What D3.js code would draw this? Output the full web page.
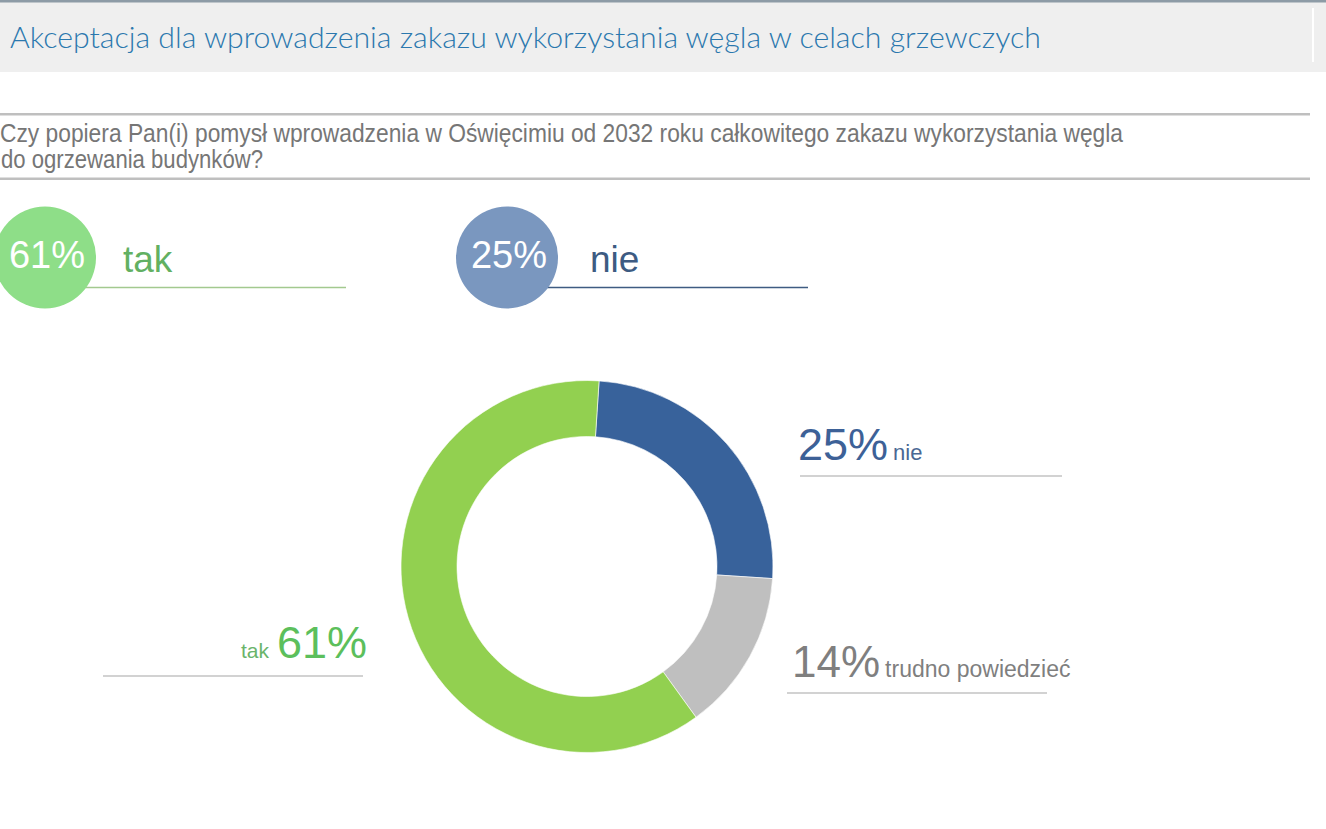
<!DOCTYPE html>
<html>
<head>
<meta charset="utf-8">
<script src="https://cdn.jsdelivr.net/npm/d3@7"></script>
<style>
  html, body { margin: 0; padding: 0; background: #ffffff; }
  svg { display: block; }
</style>
</head>
<body>
<svg id="chart" width="1326" height="829"></svg>
<script>
// ---- data ----
const title = "Akceptacja dla wprowadzenia zakazu wykorzystania węgla w celach grzewczych";
const questionLines = [
  "Czy popiera Pan(i) pomysł wprowadzenia w Oświęcimiu od 2032 roku całkowitego zakazu wykorzystania węgla",
  "do ogrzewania budynków?"
];
const categories = ["nie", "trudno powiedzieć", "tak"];
const values = [25, 14, 61];
const sliceColors = ["#38629b", "#bfbfbf", "#92d050"];
const highlightCategories = ["tak", "nie"];
const highlightValues = [61, 25];

// ---- drawing ----
const svg = d3.select("#chart");
const W = 1326, H = 829;
svg.append("rect").attr("width", W).attr("height", H).attr("fill", "#ffffff");

// header band
svg.append("rect").attr("x", 0).attr("y", 0).attr("width", W).attr("height", 72).attr("fill", "#efefef");
svg.append("rect").attr("x", 0).attr("y", 0).attr("width", W).attr("height", 2.5).attr("fill", "#8d9ba6");
svg.append("rect").attr("x", 1312).attr("y", 8).attr("width", 2).attr("height", 54).attr("fill", "#ffffff");
svg.append("text")
  .attr("x", 10).attr("y", 48)
  .attr("font-family", "Lato, 'Open Sans', sans-serif")
  .attr("font-weight", 300)
  .attr("font-size", 29)
  .attr("fill", "#2b78ae")
  .attr("textLength", 1031)
  .attr("lengthAdjust", "spacingAndGlyphs")
  .text(title);

// question block
svg.append("rect").attr("x", 0).attr("y", 113).attr("width", 1310).attr("height", 2.5).attr("fill", "#bfbfbf");
svg.append("rect").attr("x", 0).attr("y", 177.5).attr("width", 1310).attr("height", 2.5).attr("fill", "#bfbfbf");
const qLens = [1123, 262];
const qBase = [142, 168];
questionLines.forEach((t, i) => {
  svg.append("text")
    .attr("x", i === 0 ? 0 : 1).attr("y", qBase[i])
    .attr("font-family", "'Liberation Sans Narrow', 'Arial Narrow', 'Liberation Sans', Arial, sans-serif")
    .attr("font-size", 25)
    .attr("fill", "#767676")
    .attr("textLength", qLens[i])
    .attr("lengthAdjust", "spacingAndGlyphs")
    .text(t);
});

// highlight circles at top
const topColors = { "tak": "#8ede88", "nie": "#7a97bf" };
const topTextColors = { "tak": "#62b062", "nie": "#3d5b82" };
const topLineColors = { "tak": "#a3c98f", "nie": "#3f5c82" };
const topLabelOffset = { "tak": 78, "nie": 83 };
const topX = d3.scaleOrdinal().domain(highlightCategories).range([45, 507]);
const fmtPct = v => v + "%";
highlightCategories.forEach((c, i) => {
  const cx = topX(c);
  svg.append("line")
    .attr("x1", cx + 40).attr("x2", cx + 301)
    .attr("y1", 287.5).attr("y2", 287.5)
    .attr("stroke", topLineColors[c]).attr("stroke-width", 1.3);
  svg.append("circle").attr("cx", cx).attr("cy", 257.5).attr("r", 51).attr("fill", topColors[c]);
  svg.append("text")
    .attr("x", cx + 2).attr("y", 268)
    .attr("text-anchor", "middle")
    .attr("font-family", "'Liberation Sans', Arial, sans-serif")
    .attr("font-size", 38)
    .attr("fill", "#ffffff")
    .text(fmtPct(highlightValues[i]));
  svg.append("text")
    .attr("x", cx + topLabelOffset[c]).attr("y", 272)
    .attr("font-family", "'Liberation Sans', Arial, sans-serif")
    .attr("font-size", 37)
    .attr("fill", topTextColors[c])
    .text(c);
});

// donut
const cx = 587, cy = 566.5;
const outerR = 186, innerR = 130;
const color = d3.scaleOrdinal().domain(categories).range(sliceColors);
const pie = d3.pie().sort(null).value(d => d.value)
  .startAngle(0.065).endAngle(0.065 + 2 * Math.PI);
const arc = d3.arc().innerRadius(innerR).outerRadius(outerR);
const data = categories.map((c, i) => ({ category: c, value: values[i] }));
svg.append("g").attr("transform", `translate(${cx},${cy})`)
  .selectAll("path")
  .data(pie(data))
  .join("path")
  .attr("d", arc)
  .attr("fill", d => color(d.data.category))
  .attr("stroke", "#ffffff")
  .attr("stroke-width", 0.6);

// donut labels
const labelSpec = {
  "nie": { x: 798, y: 460, pctColor: "#3d6197", txtColor: "#4a6894", pctSize: 45, txtSize: 22, lx1: 800, lx2: 1062, ly: 476, order: "pctFirst" },
  "trudno powiedzieć": { x: 792, y: 677, pctColor: "#7f7f7f", txtColor: "#7f7f7f", pctSize: 44, txtSize: 23, lx1: 787, lx2: 1047, ly: 693, order: "pctFirst" },
  "tak": { x: 241, y: 658, pctColor: "#5cbf5c", txtColor: "#6ab46a", pctSize: 45, txtSize: 21, lx1: 103, lx2: 363, ly: 676, order: "txtFirst" }
};
categories.forEach((c, i) => {
  const s = labelSpec[c];
  svg.append("line")
    .attr("x1", s.lx1).attr("x2", s.lx2).attr("y1", s.ly).attr("y2", s.ly)
    .attr("stroke", "#a6a6a6").attr("stroke-width", 1.2);
  const t = svg.append("text")
    .attr("x", s.x).attr("y", s.y)
    .attr("font-family", "'Liberation Sans', Arial, sans-serif");
  if (s.order === "pctFirst") {
    t.append("tspan").attr("font-size", s.pctSize).attr("fill", s.pctColor).text(fmtPct(values[i]));
    t.append("tspan").attr("dx", 5).attr("font-size", s.txtSize).attr("fill", s.txtColor).text(c);
  } else {
    t.append("tspan").attr("font-size", s.txtSize).attr("fill", s.txtColor).text(c);
    t.append("tspan").attr("dx", 8).attr("font-size", s.pctSize).attr("fill", s.pctColor).text(fmtPct(values[i]));
  }
});
</script>
</body>
</html>
